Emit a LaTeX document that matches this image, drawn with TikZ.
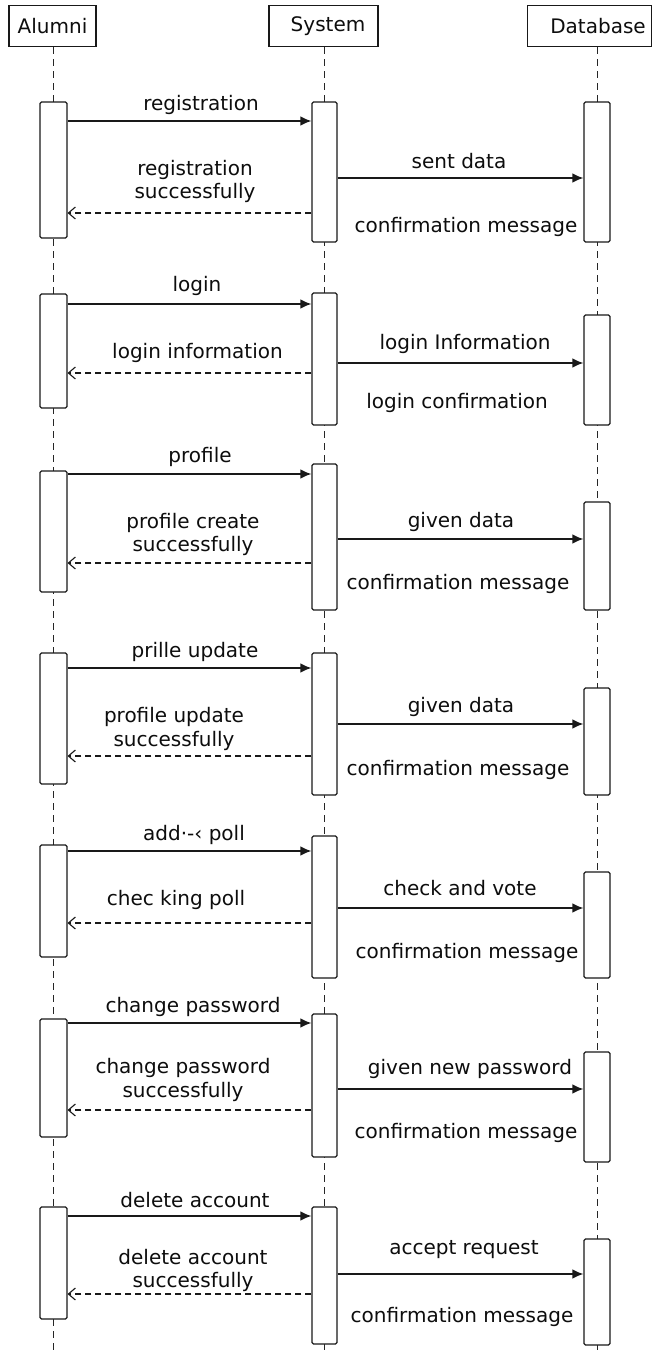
\documentclass[tikz,border=0pt]{standalone}
\usepackage{fontspec}
\setmainfont{DejaVu Sans}
\usetikzlibrary{arrows.meta}
\begin{document}
\begin{tikzpicture}[x=1pt,y=-1pt,
  every node/.style={font=\fontsize{20}{23.5}\selectfont, text=black!95},
  hdr/.style={draw=black!90, line width=1.1pt, inner sep=0pt, minimum height=41pt},
  life/.style={draw=black!85, line width=1pt, dash pattern=on 7pt off 5pt},
  act/.style={draw=black!90, fill=white, line width=1.1pt, rounded corners=1.5pt, inner sep=0pt},
  msg/.style={draw=black!90, line width=1.4pt, -{Latex[length=11pt,width=9.5pt]}},
  ret/.style={draw=black!90, line width=1.1pt, dash pattern=on 6pt off 4pt, -{Straight Barb[length=7pt,width=12pt]}},
  lbl/.style={inner sep=0pt, align=center}
]
\fill[white] (0,0) rectangle (660,1354);
\useasboundingbox (0,0) rectangle (660,1354);

% headers
\node[hdr, minimum width=87pt] (alumni) at (52.5,26.3) {Alumni};
\node[hdr, minimum width=109pt] (system) at (323.5,26.3) {};
\node[lbl] (systemt) at (328,26.3) {System};
\node[hdr, minimum width=124pt] (database) at (589.5,26.3) {};
\node[lbl] (databaset) at (598,26.3) {Database};

% lifelines
\coordinate (ea) at (53,1354);
\coordinate (es) at (324,1354);
\coordinate (ed) at (597,1354);
\draw[life] (alumni.south -| ea) -- (ea);
\draw[life] (system.south -| es) -- (es);
\draw[life] (database.south -| ed) -- (ed);

\newcommand\actbox[6]{\node[act, minimum width=#3-#2, minimum height=#5-#4] (#1) at ({(#2+#3)/2},{(#4+#5)/2}) {};}

% ---------- group 1
\actbox{a1}{40}{67}{102}{238}{}
\actbox{s1}{312}{337}{102}{242}{}
\actbox{d1}{584}{610}{102}{242}{}
\draw[msg] (a1.east |- 0,121) -- (s1.west |- 0,121);
\node[lbl] (l11) at (201,105) {registration};
\draw[msg] (s1.east |- 0,178) -- (d1.west |- 0,178);
\node[lbl] (l12) at (459,161) {sent data};
\draw[ret] (s1.west |- 0,213) -- (a1.east |- 0,213);
\node[lbl] (l13) at (195,181.5) {registration\\successfully};
\node[lbl] (l14) at (466,227) {confirmation message};

% ---------- group 2
\actbox{a2}{40}{67}{294}{408}{}
\actbox{s2}{312}{337}{293}{425}{}
\actbox{d2}{584}{610}{315}{425}{}
\draw[msg] (a2.east |- 0,304) -- (s2.west |- 0,304);
\node[lbl] (l21) at (197,286) {login};
\draw[msg] (s2.east |- 0,363) -- (d2.west |- 0,363);
\node[lbl] (l22) at (465,344) {login Information};
\draw[ret] (s2.west |- 0,373) -- (a2.east |- 0,373);
\node[lbl] (l23) at (197.5,353) {login information};
\node[lbl] (l24) at (457,403) {login confirmation};

% ---------- group 3
\actbox{a3}{40}{67}{471}{592}{}
\actbox{s3}{312}{337}{464}{610}{}
\actbox{d3}{584}{610}{502}{610}{}
\draw[msg] (a3.east |- 0,474) -- (s3.west |- 0,474);
\node[lbl] (l31) at (200,457) {profile};
\draw[msg] (s3.east |- 0,539) -- (d3.west |- 0,539);
\node[lbl] (l32) at (461,522) {given data};
\draw[ret] (s3.west |- 0,563) -- (a3.east |- 0,563);
\node[lbl] (l33) at (193,534.5) {profile create\\successfully};
\node[lbl] (l34) at (458,584) {confirmation message};

% ---------- group 4
\actbox{a4}{40}{67}{653}{784}{}
\actbox{s4}{312}{337}{653}{795}{}
\actbox{d4}{584}{610}{688}{795}{}
\draw[msg] (a4.east |- 0,668) -- (s4.west |- 0,668);
\node[lbl] (l41) at (195,652) {prille update};
\draw[msg] (s4.east |- 0,724) -- (d4.west |- 0,724);
\node[lbl] (l42) at (461,707) {given data};
\draw[ret] (s4.west |- 0,756) -- (a4.east |- 0,756);
\node[lbl] (l43) at (174,729) {profile update\\successfully};
\node[lbl] (l44) at (458,770) {confirmation message};

% ---------- group 5
\actbox{a5}{40}{67}{845}{957}{}
\actbox{s5}{312}{337}{836}{978}{}
\actbox{d5}{584}{610}{872}{978}{}
\draw[msg] (a5.east |- 0,851) -- (s5.west |- 0,851);
\node[lbl] (l51) at (194,835) {add·-‹ poll};
\draw[msg] (s5.east |- 0,908) -- (d5.west |- 0,908);
\node[lbl] (l52) at (460,888) {check and vote};
\draw[ret] (s5.west |- 0,923) -- (a5.east |- 0,923);
\node[lbl] (l53) at (176,900) {chec king poll};
\node[lbl] (l54) at (467,953) {confirmation message};

% ---------- group 6
\actbox{a6}{40}{67}{1019}{1137}{}
\actbox{s6}{312}{337}{1014}{1157}{}
\actbox{d6}{584}{610}{1052}{1162}{}
\draw[msg] (a6.east |- 0,1023) -- (s6.west |- 0,1023);
\node[lbl] (l61) at (193,1007) {change password};
\draw[msg] (s6.east |- 0,1089) -- (d6.west |- 0,1089);
\node[lbl] (l62) at (470,1069) {given new password};
\draw[ret] (s6.west |- 0,1110) -- (a6.east |- 0,1110);
\node[lbl] (l63) at (183,1080) {change password\\successfully};
\node[lbl] (l64) at (466,1133) {confirmation message};

% ---------- group 7
\actbox{a7}{40}{67}{1207}{1319}{}
\actbox{s7}{312}{337}{1207}{1344}{}
\actbox{d7}{584}{610}{1239}{1345}{}
\draw[msg] (a7.east |- 0,1216) -- (s7.west |- 0,1216);
\node[lbl] (l71) at (195,1200) {delete account};
\draw[msg] (s7.east |- 0,1274) -- (d7.west |- 0,1274);
\node[lbl] (l72) at (464,1250) {accept request};
\draw[ret] (s7.west |- 0,1294) -- (a7.east |- 0,1294);
\node[lbl] (l73) at (193,1270.5) {delete account\\successfully};
\node[lbl] (l74) at (462,1317) {confirmation message};
\end{tikzpicture}
\end{document}
